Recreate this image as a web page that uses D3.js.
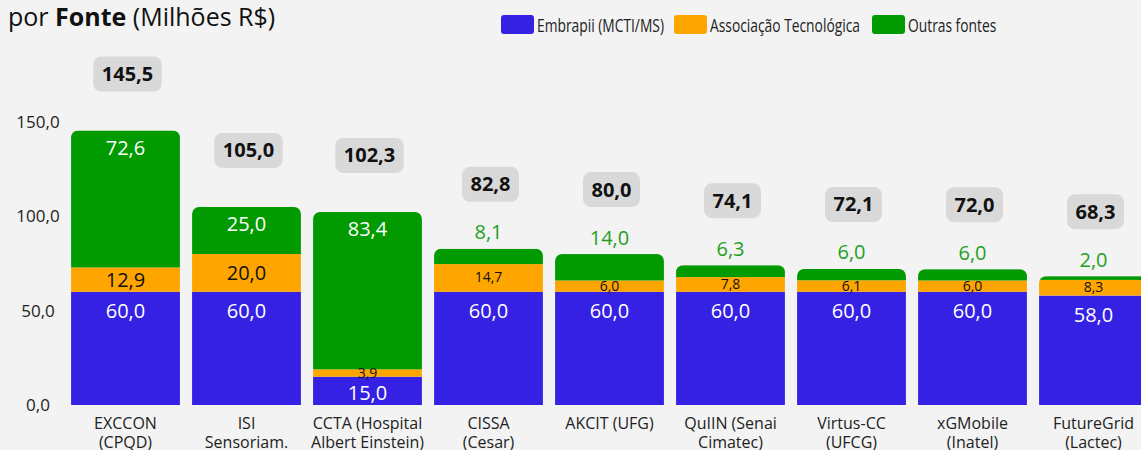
<!DOCTYPE html>
<html>
<head>
<meta charset="utf-8">
<script src="https://cdn.jsdelivr.net/npm/d3@7"></script>
<style>
  html, body { margin: 0; padding: 0; background: #f3f3f3; }
  svg { display: block; font-family: "Open Sans", "Noto Sans", sans-serif; }
</style>
</head>
<body>
<svg id="chart"></svg>
<script>
// data
var categories = ["EXCCON\n(CPQD)", "ISI\nSensoriam.", "CCTA (Hospital\nAlbert Einstein)", "CISSA\n(Cesar)",
    "AKCIT (UFG)", "QuIIN (Senai\nCimatec)", "Virtus-CC\n(UFCG)", "xGMobile\n(Inatel)", "FutureGrid\n(Lactec)"];
var embrapii = [60.0, 60.0, 15.0, 60.0, 60.0, 60.0, 60.0, 60.0, 58.0];
var associacao = [12.9, 20.0, 3.9, 14.7, 6.0, 7.8, 6.1, 6.0, 8.3];
var outras = [72.6, 25.0, 83.4, 8.1, 14.0, 6.3, 6.0, 6.0, 2.0];
var totals = [145.5, 105.0, 102.3, 82.8, 80.0, 74.1, 72.1, 72.0, 68.3];
var seriesNames = ["Embrapii (MCTI/MS)", "Associação Tecnológica", "Outras fontes"];
var yTicks = [0, 50, 100, 150];

var width = 1141, height = 450;
var colors = ["#3521e3", "#ffa500", "#019a01"];
var fmt = function (v) { return d3.format(".1f")(v).replace(".", ","); };

var svg = d3.select("#chart").attr("width", width).attr("height", height);

var rows = categories.map(function (c, i) {
    return { cat: c, k0: embrapii[i], k1: associacao[i], k2: outras[i], total: totals[i] };
});
var stack = d3.stack().keys(["k0", "k1", "k2"]);
var series = stack(rows);

var x = d3.scaleBand().domain(categories).range([65, 65 + 9 * 121]).paddingInner(0.1).paddingOuter(0.05);
var y = d3.scaleLinear().domain([0, 150]).range([405, 122]);

// title
var title = svg.append("text").attr("x", 8).attr("y", 26).attr("font-size", "25px").attr("fill", "#111");
title.append("tspan").text("por ");
title.append("tspan").attr("font-weight", "bold").text("Fonte");
title.append("tspan").text(" (Milhões R$)");

// legend
var legendX = [501, 674, 872];
var leg = svg.append("g").selectAll("g").data(seriesNames).enter().append("g")
    .attr("transform", function (d, i) { return "translate(" + legendX[i] + ",15)"; });
leg.append("rect").attr("width", 33).attr("height", 19).attr("rx", 3).attr("fill", function (d, i) { return colors[i]; });
leg.append("text").attr("transform", "translate(36,16.5) scale(0.79,1)")
    .attr("font-size", "17.5px").attr("fill", "#222").text(function (d) { return d; });

// y axis
var yAxis = svg.append("g").attr("transform", "translate(38,0)")
    .call(d3.axisLeft(y).tickValues(yTicks).tickFormat(fmt).tickSize(0).tickPadding(0));
yAxis.select(".domain").remove();
yAxis.selectAll("text").attr("font-size", "17px").attr("fill", "#222")
    .attr("font-family", "'Open Sans', sans-serif").attr("text-anchor", "middle");

// clip paths for rounded tops
var defs = svg.append("defs");
rows.forEach(function (d, i) {
    defs.append("clipPath").attr("id", "clip" + i).append("rect")
        .attr("x", x(d.cat)).attr("y", y(d.total))
        .attr("width", x.bandwidth()).attr("height", y(0) - y(d.total) + 10).attr("rx", 7);
});

var bars = svg.append("g");
rows.forEach(function (d, i) {
    var g = bars.append("g").attr("clip-path", "url(#clip" + i + ")");
    series.forEach(function (s, si) {
        var seg = s[i];
        g.append("rect").attr("x", x(d.cat)).attr("y", y(seg[1]))
            .attr("width", x.bandwidth()).attr("height", y(seg[0]) - y(seg[1]))
            .attr("fill", colors[si]);
    });
});

// segment labels
var labels = svg.append("g").attr("text-anchor", "middle").attr("dominant-baseline", "central");
rows.forEach(function (d, i) {
    var cx = x(d.cat) + x.bandwidth() / 2;
    var greenH = y(series[1][i][1]) - y(series[2][i][1]);
    var greenInside = greenH >= 40;

    // embrapii
    var b = series[0][i];
    var bh = y(b[0]) - y(b[1]);
    labels.append("text").attr("x", cx).attr("y", y(b[1]) + Math.min(19, bh / 2 + 2))
        .attr("font-size", "20px").attr("fill", "#fff").text(fmt(embrapii[i]));

    // associacao
    var a = series[1][i];
    var ah = y(a[0]) - y(a[1]);
    var big = greenInside && ah >= 20;
    labels.append("text").attr("x", cx).attr("y", (y(a[0]) + y(a[1])) / 2 + (big ? 0 : -1))
        .attr("font-size", big ? "20px" : "14px").attr("fill", "#111").text(fmt(associacao[i]));

    // outras
    var o = series[2][i];
    var top = y(o[1]);
    labels.append("text").attr("x", cx).attr("y", greenInside ? top + 17 : top - 17)
        .attr("font-size", "20px").attr("fill", greenInside ? "#fff" : "#1ea01e").text(fmt(outras[i]));

    // total badge
    var by = top - (greenInside ? 57 : 65);
    var bg = svg.append("g").attr("transform", "translate(" + (cx + 2) + "," + by + ")");
    var rect = bg.append("rect").attr("fill", "#d9d9d9").attr("rx", 8);
    var t = bg.append("text").attr("text-anchor", "middle").attr("dominant-baseline", "central")
        .attr("font-size", "20px").attr("font-weight", "bold").attr("fill", "#111").text(fmt(d.total));
    var w = t.node().getComputedTextLength() + 17;
    rect.attr("x", -w / 2).attr("y", -17).attr("width", w).attr("height", 35);
});

// x labels
var xl = svg.append("g").attr("text-anchor", "middle").attr("font-size", "16px").attr("fill", "#222");
rows.forEach(function (d) {
    var cx = x(d.cat) + x.bandwidth() / 2;
    var t = xl.append("text").attr("x", cx).attr("y", 429);
    d.cat.split("\n").forEach(function (line, li) {
        t.append("tspan").attr("x", cx).attr("dy", li ? 19 : 0).text(line);
    });
});
</script>
</body>
</html>
